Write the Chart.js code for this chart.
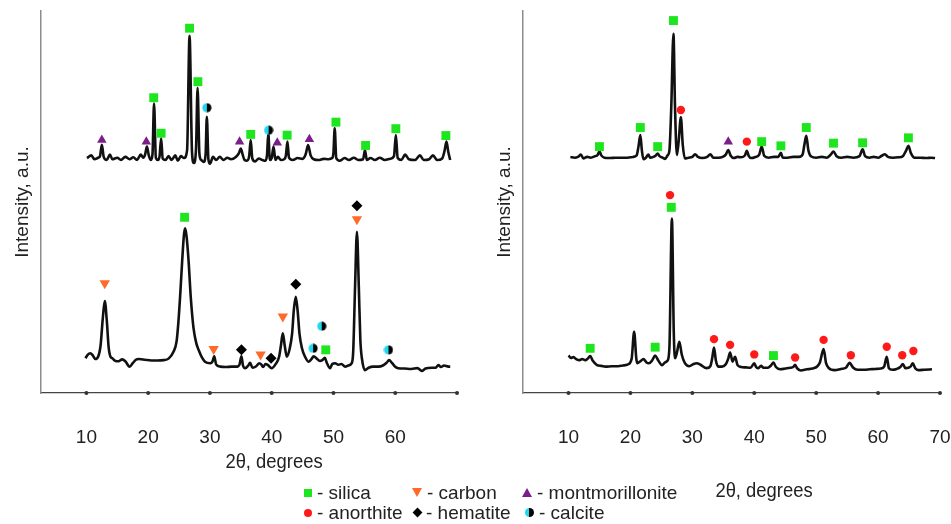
<!DOCTYPE html>
<html>
<head>
<meta charset="utf-8">
<script src="https://cdn.jsdelivr.net/npm/chart.js@4.4.1/dist/chart.umd.min.js"></script>
<style>
  body { margin: 0; background: #fff; width: 951px; height: 524px; position: relative; overflow: hidden;
         font-family: "Liberation Sans", Arial, sans-serif; color: #222; }
  #left { position: absolute; left: 0; top: 0; }
  #right { position: absolute; left: 480px; top: 0; }
  .xt { position: absolute; font: 20px "Liberation Sans", Arial, sans-serif;
        transform: translateX(-50%) scaleX(0.92); white-space: nowrap; line-height: 24px; }
  .lg { position: absolute; font-size: 19px; line-height: 20px; white-space: nowrap; }
  .lg i { display: inline-block; vertical-align: middle; margin-right: 5px; position: relative; top: -1px; }
  .sq { width: 8px; height: 8px; background: #1ee61e; }
  .dn { width: 0; height: 0; border-left: 5px solid transparent; border-right: 5px solid transparent; border-top: 9px solid #ff6a2b; }
  .up { width: 0; height: 0; border-left: 5px solid transparent; border-right: 5px solid transparent; border-bottom: 9px solid #7b1e8a; }
  .ci { width: 8px; height: 8px; border-radius: 50%; background: #ff1a1a; }
  .dm { width: 7px; height: 7px; background: #000; transform: rotate(45deg); margin-left: 2px; }
  .hc { width: 9px; height: 9px; border-radius: 50%; background: linear-gradient(to right, #22d8f0 50%, #000 50%); }
</style>
</head>
<body>
<canvas id="left" width="480" height="524"></canvas>
<canvas id="right" width="471" height="524"></canvas>

<div class="xt" style="left:274px;top:449px">2θ, degrees</div>
<div class="xt" style="left:764px;top:478px">2θ, degrees</div>

<div class="lg" style="left:304px;top:483px"><i class="sq"></i>- silica</div>
<div class="lg" style="left:412px;top:483px"><i class="dn"></i>- carbon</div>
<div class="lg" style="left:522px;top:483px"><i class="up"></i>- montmorillonite</div>
<div class="lg" style="left:304px;top:503px"><i class="ci"></i>- anorthite</div>
<div class="lg" style="left:412px;top:503px"><i class="dm"></i>- hematite</div>
<div class="lg" style="left:525px;top:503px"><i class="hc"></i>- calcite</div>

<script>
  // x axis ticks (2θ, degrees)
  var angleTicks = [10, 20, 30, 40, 50, 60, 70];

  // left panel, upper pattern  [2θ, intensity]
  var leftUpper = [[10.1,61.5],[10.8,62.2],[11.3,61.2],[11.9,61.6],[12.2,62.0],[12.5,65.0],[12.8,61.8],[13.3,61.0],[13.8,62.4],[14.2,61.2],[15.0,61.6],[15.6,61.0],[16.3,61.8],[17.0,61.2],[17.6,61.7],[18.2,61.0],[18.8,62.4],[19.2,61.6],[19.5,62.4],[19.8,64.5],[20.1,62.2],[20.4,61.0],[20.7,62.5],[20.95,75.8],[21.25,61.5],[21.6,61.0],[21.85,62.0],[22.1,66.7],[22.35,61.4],[22.8,61.0],[23.3,62.0],[23.8,61.0],[24.4,62.2],[24.8,60.8],[25.3,62.0],[25.8,61.5],[26.3,63.5],[26.7,93.5],[27.1,63.0],[27.4,60.2],[27.75,64.0],[28.0,79.9],[28.3,62.5],[28.6,61.0],[29.0,60.5],[29.3,62.5],[29.5,72.3],[29.75,61.2],[30.0,60.0],[30.5,61.8],[31.0,61.0],[31.6,61.8],[32.2,61.0],[32.8,61.6],[33.4,61.2],[34.2,61.8],[34.7,62.8],[35.0,64.0],[35.3,62.4],[35.6,61.0],[36.0,60.8],[36.35,62.0],[36.6,66.2],[36.85,61.5],[37.3,60.6],[37.9,61.4],[38.5,61.0],[39.0,60.8],[39.25,62.5],[39.45,68.0],[39.7,61.0],[40.0,61.5],[40.3,64.5],[40.6,61.0],[41.0,61.8],[41.5,61.0],[42.0,61.2],[42.3,62.2],[42.55,65.8],[42.8,61.6],[43.4,61.0],[44.2,61.5],[45.0,61.3],[45.5,62.5],[45.9,64.9],[46.3,62.2],[46.8,61.2],[47.6,61.0],[48.4,61.3],[49.2,61.2],[49.8,61.5],[50.0,63.0],[50.2,69.3],[50.45,61.5],[51.0,60.8],[51.8,61.5],[52.5,61.0],[53.3,61.6],[54.0,61.0],[54.8,61.2],[55.1,63.6],[55.4,61.0],[56.0,61.5],[56.7,61.0],[57.5,61.6],[58.3,61.0],[59.2,61.3],[59.8,62.0],[60.1,67.5],[60.4,61.5],[61.0,61.0],[61.6,62.4],[62.2,61.2],[63.2,61.0],[64.0,62.2],[64.6,61.0],[65.5,61.2],[66.1,62.2],[66.8,61.0],[67.6,61.4],[68.0,63.5],[68.3,65.8],[68.6,63.0],[68.9,61.0]];

  // left panel, lower pattern
  var leftLower = [[9.85,9.1],[10.2,10.0],[10.65,10.4],[11.0,9.9],[11.45,8.9],[11.9,9.5],[12.3,12.5],[12.65,19.5],[12.97,24.1],[13.3,19.0],[13.6,12.0],[13.9,9.5],[14.2,9.1],[14.6,8.5],[15.2,8.3],[15.8,8.8],[16.3,8.3],[17.0,6.9],[17.5,7.8],[18.0,8.7],[18.5,8.9],[19.5,8.7],[20.5,8.5],[21.5,8.5],[22.5,8.6],[23.3,9.0],[24.1,10.8],[24.6,13.5],[24.9,18.7],[25.2,26.0],[25.5,34.4],[25.8,41.5],[26.0,43.1],[26.25,40.5],[26.55,34.4],[26.9,25.0],[27.35,16.9],[27.8,13.0],[28.16,11.3],[28.7,9.3],[29.2,8.2],[30.05,7.8],[30.4,8.2],[30.7,9.6],[31.0,7.5],[31.7,6.9],[32.5,6.8],[33.5,6.9],[34.4,6.9],[34.8,7.5],[35.1,9.6],[35.35,7.2],[35.7,6.5],[36.2,7.2],[36.5,7.9],[36.9,6.6],[37.5,7.0],[38.0,7.8],[38.3,7.5],[38.6,6.8],[39.0,7.6],[39.4,7.3],[40.0,6.5],[40.6,7.5],[41.2,9.5],[41.5,12.5],[41.8,15.6],[42.1,12.5],[42.45,9.5],[42.9,11.5],[43.3,15.5],[43.6,22.0],[43.9,25.2],[44.2,21.5],[44.5,15.5],[44.9,11.7],[45.4,9.5],[45.95,8.2],[46.4,8.8],[46.8,9.6],[47.3,9.0],[47.8,8.4],[48.2,8.6],[48.6,9.2],[48.9,8.0],[49.45,6.5],[49.8,7.6],[50.26,7.8],[50.8,7.4],[51.3,7.6],[51.9,6.9],[52.4,7.2],[52.96,7.8],[53.2,11.0],[53.5,28.0],[53.8,42.2],[54.1,28.0],[54.35,14.0],[54.6,9.1],[55.1,6.0],[55.7,6.6],[56.4,6.9],[57.3,6.9],[58.0,7.2],[58.6,7.9],[59.0,8.6],[59.5,7.8],[60.0,6.9],[60.5,6.5],[61.5,6.4],[62.6,6.3],[63.6,6.5],[64.3,5.8],[64.9,6.4],[65.9,6.6],[66.5,6.6],[67.0,7.3],[67.4,6.8],[67.9,7.2],[68.6,6.9],[68.9,6.9]];

  // right panel, upper pattern
  var rightUpper = [[10.3,61.8],[11.0,61.6],[11.6,61.9],[12.0,62.4],[12.4,61.4],[13.0,61.8],[13.6,61.6],[14.3,62.0],[14.7,62.3],[15.0,63.3],[15.3,62.2],[15.8,61.6],[16.6,61.5],[17.6,61.6],[18.6,61.6],[19.5,61.6],[20.4,61.8],[21.0,62.2],[21.3,64.5],[21.6,67.5],[21.85,63.5],[22.1,61.2],[22.5,61.6],[22.9,62.4],[23.2,61.6],[23.7,61.8],[24.1,62.2],[24.4,62.7],[24.7,62.0],[25.2,61.6],[25.6,61.3],[26.0,62.2],[26.3,63.5],[26.6,75.0],[26.95,94.0],[27.2,75.0],[27.5,62.3],[27.8,66.0],[28.15,72.2],[28.45,65.0],[28.8,61.4],[29.4,61.6],[30.0,61.8],[30.45,62.5],[30.9,61.8],[31.6,61.5],[32.4,61.8],[32.9,62.5],[33.4,61.6],[34.2,61.6],[34.9,61.8],[35.4,62.4],[35.8,63.6],[36.2,62.1],[36.7,61.5],[37.3,61.8],[37.9,61.7],[38.5,62.2],[38.8,63.4],[39.1,62.1],[39.5,61.5],[40.2,61.8],[40.8,62.4],[41.2,64.5],[41.6,62.1],[42.3,61.6],[43.2,61.8],[43.9,61.8],[44.3,62.9],[44.6,61.6],[45.4,61.6],[46.3,61.8],[47.2,61.8],[47.8,62.4],[48.1,65.0],[48.4,67.3],[48.75,63.5],[49.2,61.9],[50.0,61.6],[50.9,61.8],[51.7,61.6],[52.3,62.3],[52.8,63.2],[53.3,62.0],[54.1,61.6],[55.0,61.8],[56.0,61.6],[57.0,62.0],[57.5,63.8],[57.9,62.0],[58.6,61.6],[59.3,61.8],[60.0,61.6],[60.6,62.1],[61.1,62.5],[61.6,61.8],[62.4,61.6],[63.3,61.7],[64.0,62.0],[64.5,63.4],[64.9,64.7],[65.3,62.8],[65.9,61.6],[66.8,61.6],[67.8,61.5],[68.6,61.6],[69.2,61.5]];

  // right panel, lower pattern
  var rightLower = [[10.0,9.8],[10.4,9.2],[10.8,9.4],[11.3,8.8],[11.8,8.6],[12.2,8.9],[12.7,8.6],[13.1,9.0],[13.5,9.7],[13.9,8.5],[14.6,7.3],[15.3,7.1],[16.0,6.9],[17.0,7.0],[18.0,7.0],[18.8,7.2],[19.6,7.5],[20.2,9.0],[20.6,16.0],[20.95,9.0],[21.1,7.8],[21.6,8.3],[22.1,8.9],[22.6,8.0],[23.0,7.8],[23.5,8.5],[24.0,9.8],[24.5,8.5],[25.1,7.3],[25.6,8.0],[26.0,8.5],[26.3,12.0],[26.7,45.7],[27.0,16.0],[27.2,9.1],[27.5,10.5],[27.9,13.4],[28.3,10.0],[28.8,7.8],[29.5,7.0],[30.2,7.6],[30.7,7.8],[31.3,7.4],[32.3,6.5],[32.9,7.0],[33.2,9.0],[33.5,11.9],[33.8,8.5],[34.2,6.9],[34.8,6.9],[35.4,7.5],[35.8,9.0],[36.1,10.6],[36.5,8.2],[36.9,9.5],[37.3,7.3],[37.9,6.8],[38.6,6.7],[39.4,6.6],[40.0,7.8],[40.3,6.8],[40.6,6.5],[41.1,7.1],[41.5,6.6],[42.2,6.6],[42.7,7.2],[43.1,8.0],[43.5,6.8],[44.2,6.2],[45.0,6.4],[45.8,6.6],[46.3,6.8],[46.6,7.4],[46.9,6.5],[47.5,5.9],[48.5,6.2],[49.4,6.4],[50.2,7.0],[50.6,8.0],[51.2,11.5],[51.6,7.8],[52.0,6.6],[53.0,6.0],[54.0,6.3],[54.8,6.6],[55.4,7.9],[55.7,7.3],[56.0,6.6],[56.7,6.1],[57.7,6.1],[58.7,6.2],[59.6,6.3],[60.4,6.4],[61.0,7.0],[61.4,9.5],[61.75,6.5],[62.3,6.1],[63.0,6.3],[63.6,6.8],[64.0,7.6],[64.4,6.5],[64.9,6.6],[65.3,7.0],[65.6,7.8],[66.0,6.5],[66.5,6.0],[67.5,6.1],[68.7,6.2]];

  // phase markers, left panel
  var leftSilica = [[20.9,77.3],[22.1,68.0],[26.7,95.5],[28.05,81.5],[36.6,67.7],[42.5,67.5],[50.4,70.9],[55.2,64.8],[60.1,69.2],[68.2,67.4],[25.9,46.0],[48.75,11.3]];
  var leftCarbon = [[12.97,28.7],[30.6,11.5],[38.2,10.1],[41.8,20.0],[53.8,45.5]];
  var leftMontmorillonite = [[12.5,66.2],[19.7,65.8],[34.8,65.8],[40.9,65.5],[46.1,66.4]];
  var leftHematite = [[35.1,11.3],[39.9,9.1],[43.9,28.5],[53.8,49.0]];
  var leftCalcite = [[29.5,74.7],[39.5,68.8],[46.7,11.7],[48.1,17.5],[58.9,11.3]];

  // phase markers, right panel
  var rightSilica = [[15.0,64.5],[21.6,69.5],[24.4,64.5],[26.95,97.5],[41.2,65.8],[44.3,64.7],[48.4,69.5],[52.8,65.4],[57.5,65.5],[64.9,66.8],[13.5,11.7],[24.0,12.0],[26.6,48.6],[43.1,9.8]];
  var rightAnorthite = [[28.15,74.1],[38.8,65.8],[26.4,51.8],[33.5,14.1],[36.1,12.6],[40.0,10.1],[46.6,9.3],[51.2,13.9],[55.6,9.9],[61.4,12.1],[63.9,9.9],[65.7,11.0]];
  var rightMontmorillonite = [[35.8,65.8]];

  var halfCircle = document.createElement('canvas');
  halfCircle.width = 10; halfCircle.height = 10;
  var hc = halfCircle.getContext('2d');
  hc.fillStyle = '#22d8f0';
  hc.beginPath(); hc.arc(5, 5, 4.6, Math.PI / 2, Math.PI * 1.5); hc.fill();
  hc.fillStyle = '#000';
  hc.beginPath(); hc.arc(5, 5, 4.6, -Math.PI / 2, Math.PI / 2); hc.fill();

  var toXY = (arr) => arr.map(p => ({x: p[0], y: p[1]}));

  function curve(arr) {
    return {data: toXY(arr), showLine: true, borderColor: '#111', borderWidth: 2.6,
            pointRadius: 0, cubicInterpolationMode: 'monotone', order: 2};
  }

  function marks(arr, style, color, radius, rotation) {
    return {data: toXY(arr), showLine: false, pointStyle: style, pointRadius: radius,
            pointRotation: rotation || 0, backgroundColor: color, borderColor: color,
            borderWidth: 0, order: 1};
  }

  // small dots on the x axis at each tick
  var tickDots = {
    id: 'tickDots',
    afterDraw(chart) {
      var ctx = chart.ctx, x = chart.scales.x;
      ctx.save();
      ctx.fillStyle = '#333';
      x.ticks.forEach(t => {
        ctx.beginPath();
        ctx.arc(x.getPixelForValue(t.value), x.top, 2, 0, Math.PI * 2);
        ctx.fill();
      });
      ctx.restore();
    }
  };

  function panel(id, datasets, yWidth, rightPad, titlePad, showLast) {
    return new Chart(document.getElementById(id), {
      type: 'scatter',
      data: {datasets: datasets},
      plugins: [tickDots],
      options: {
        responsive: false,
        animation: false,
        devicePixelRatio: 1,
        layout: {padding: {top: 11, right: rightPad, left: 0, bottom: 0}},
        plugins: {legend: {display: false}, tooltip: {enabled: false}},
        scales: {
          x: {
            type: 'linear', min: 2.65, max: 70,
            afterBuildTicks: s => { s.ticks = angleTicks.map(v => ({value: v})); },
            afterFit: s => { s.height = 131; s.paddingLeft = 0; s.paddingRight = 0; },
            grid: {display: false, drawTicks: true, tickLength: 33},
            border: {display: true, color: '#444', width: 1.3},
            ticks: {
              padding: 0, color: '#222',
              font: {family: '"Liberation Sans", Arial, sans-serif', size: 19},
              callback: v => (v === 70 && !showLast) ? '' : v
            }
          },
          y: {
            min: 0, max: 100,
            afterFit: s => { s.width = yWidth; },
            grid: {display: false, drawTicks: false},
            border: {display: true, color: '#8c8c8c', width: 1.5},
            ticks: {display: false},
            title: {display: true, text: 'Intensity, a.u.', color: '#222',
                    font: {family: '"Liberation Sans", Arial, sans-serif', size: 19},
                    padding: {top: titlePad, bottom: 0}}
          }
        }
      }
    });
  }

  panel('left', [
    marks(leftSilica, 'rect', '#1ee61e', 6.3),
    marks(leftCarbon, 'triangle', '#ff6a2b', 6, 180),
    marks(leftMontmorillonite, 'triangle', '#7b1e8a', 5.5),
    marks(leftHematite, 'rectRot', '#000', 5.5),
    marks(leftCalcite, halfCircle, '#000', 5),
    curve(leftUpper),
    curve(leftLower)
  ], 41, 23, 11.6, false);

  panel('right', [
    marks(rightSilica, 'rect', '#1ee61e', 6.3),
    marks(rightAnorthite, 'circle', '#ff1a1a', 4.2),
    marks(rightMontmorillonite, 'triangle', '#7b1e8a', 5.5),
    curve(rightUpper),
    curve(rightLower)
  ], 43, 11, 13.6, true);
</script>
</body>
</html>
